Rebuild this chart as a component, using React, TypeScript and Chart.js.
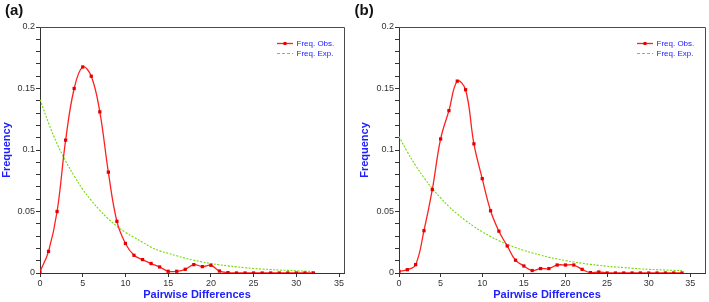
import React, { useEffect, useRef } from "react";
import { Chart, registerables } from "chart.js";

Chart.register(...registerables);

// Panel (a): pairwise differences 0..32
const diffsA = [0, 1, 2, 3, 4, 5, 6, 7, 8, 9, 10, 11, 12, 13, 14, 15, 16, 17, 18, 19, 20, 21, 22, 23, 24, 25, 26, 27, 28, 29, 30, 31, 32];
const obsA = [0.001, 0.0176, 0.05, 0.108, 0.15, 0.1675, 0.16, 0.131, 0.082, 0.042, 0.024, 0.0144, 0.0109, 0.0077, 0.0049, 0.0014, 0.0014, 0.003, 0.0068, 0.0052, 0.0063, 0.0016, 0.0003, 0, 0, 0, 0, 0, 0, 0, 0, 0, 0];
const expA = [0.141, 0.122, 0.105, 0.091, 0.079, 0.068, 0.059, 0.051, 0.044, 0.038, 0.033, 0.029, 0.025, 0.021, 0.018, 0.016, 0.014, 0.012, 0.0104, 0.009, 0.0077, 0.0067, 0.0058, 0.005, 0.0043, 0.0037, 0.0032, 0.0028, 0.0024, 0.0021, 0.0018, 0.0015, 0.0012];

// Panel (b): pairwise differences 0..34
const diffsB = [0, 1, 2, 3, 4, 5, 6, 7, 8, 9, 10, 11, 12, 13, 14, 15, 16, 17, 18, 19, 20, 21, 22, 23, 24, 25, 26, 27, 28, 29, 30, 31, 32, 33, 34];
const obsB = [0.0014, 0.0027, 0.0068, 0.0344, 0.0678, 0.109, 0.132, 0.156, 0.149, 0.105, 0.0767, 0.0506, 0.034, 0.022, 0.0104, 0.0057, 0.002, 0.0036, 0.0036, 0.0065, 0.0065, 0.0065, 0.003, 0.0003, 0.0008, 0, 0, 0, 0, 0, 0, 0, 0, 0, 0];
const expB = [0.111, 0.0985, 0.0873, 0.0775, 0.0687, 0.061, 0.054, 0.048, 0.0426, 0.0378, 0.0335, 0.0297, 0.0263, 0.0234, 0.0207, 0.0184, 0.0163, 0.0145, 0.0128, 0.0114, 0.0101, 0.009, 0.0079, 0.007, 0.0062, 0.0055, 0.0049, 0.0044, 0.0039, 0.0034, 0.003, 0.0027, 0.0024, 0.0021, 0.0019];

const seriesLabels = ["Freq. Obs.", "Freq. Exp."];
const xTitle = "Pairwise Differences";
const yTitle = "Frequency";

const RED = "#ff2020";
const GREEN = "#70dc00";
const BLUE = "#2020ff";
const AXIS = "#333333";
const TICK_FONT = '"Liberation Sans Narrow", "Liberation Sans", Arial, sans-serif';
const LABEL_FONT = '"Liberation Sans", Arial, sans-serif';

type PanelLayout = {
  width: number;
  height: number;
  plotLeft: number;
  plotRight: number;
  plotTop: number;
  plotBottom: number;
  xMax: number;
  yTitleX: number;
  xTitleX: number;
  tag: string;
  tagX: number;
  legendLineX: number;
  legendTextX: number;
};

const decorPlugin = {
  id: "decor",
  afterDatasetsDraw(chart: any, _args: any, opts: any) {
    const { ctx, chartArea } = chart;
    const { left, top, right, bottom } = chartArea;
    ctx.save();
    // frame on top and right
    ctx.strokeStyle = "#4a4a4a";
    ctx.lineWidth = 1;
    ctx.beginPath();
    ctx.moveTo(Math.round(left), Math.round(top) + 0.5);
    ctx.lineTo(Math.round(right) + 0.5, Math.round(top) + 0.5);
    ctx.lineTo(Math.round(right) + 0.5, Math.round(bottom));
    ctx.stroke();

    // panel tag
    ctx.fillStyle = "#111111";
    ctx.font = `bold 15px ${LABEL_FONT}`;
    ctx.textBaseline = "middle";
    ctx.textAlign = "left";
    ctx.fillText(opts.tag, opts.tagX, 11);

    // x axis title
    ctx.fillStyle = BLUE;
    ctx.font = `bold 11px ${LABEL_FONT}`;
    ctx.textAlign = "center";
    ctx.fillText(xTitle, opts.xTitleX, 295);

    // legend
    const rows = [43, 53];
    chart.data.datasets.forEach((ds: any, i: number) => {
      const y = rows[i];
      const x0 = opts.legendLineX;
      const x1 = x0 + 16;
      ctx.strokeStyle = ds.borderColor;
      ctx.lineWidth = ds.borderDash ? 1 : ds.borderWidth;
      ctx.setLineDash(ds.borderDash ? [3, 2] : []);
      ctx.beginPath();
      ctx.moveTo(x0, y + 0.5);
      ctx.lineTo(x1, y + 0.5);
      ctx.stroke();
      ctx.setLineDash([]);
      if (ds.pointRadius > 0) {
        ctx.fillStyle = ds.pointBackgroundColor;
        ctx.fillRect((x0 + x1) / 2 - 1.5, y - 1, 3, 3);
      }
      ctx.fillStyle = BLUE;
      ctx.font = `8px ${LABEL_FONT}`;
      ctx.textAlign = "left";
      ctx.textBaseline = "middle";
      ctx.fillText(ds.label, opts.legendTextX, y + 0.5);
    });
    ctx.restore();
  },
};

function isMultiple(v: number, step: number) {
  const r = v / step;
  return Math.abs(r - Math.round(r)) < 1e-6;
}

function Panel({ xs, obs, exp, layout }: { xs: number[]; obs: number[]; exp: number[]; layout: PanelLayout }) {
  const ref = useRef<HTMLCanvasElement | null>(null);
  useEffect(() => {
    if (!ref.current) return;
    const L = layout;
    const chart = new Chart(ref.current, {
      type: "line",
      data: {
        datasets: [
          {
            label: seriesLabels[0],
            data: xs.map((x, i) => ({ x, y: obs[i] })),
            borderColor: RED,
            borderWidth: 1.3,
            pointStyle: "rect",
            pointRadius: 2.3,
            pointBackgroundColor: "#e40000",
            pointBorderWidth: 0,
            tension: 0.4,
          },
          {
            label: seriesLabels[1],
            data: xs.map((x, i) => ({ x, y: exp[i] })),
            borderColor: GREEN,
            borderWidth: 1.1,
            borderDash: [2, 1.5],
            pointRadius: 0,
            tension: 0.4,
          },
        ],
      } as any,
      options: {
        animation: false,
        responsive: false,
        devicePixelRatio: 1,
        layout: {
          padding: { left: 0, top: L.plotTop, right: L.width - L.plotRight, bottom: 0 },
        },
        plugins: {
          legend: { display: false },
          tooltip: { enabled: false },
          decor: {
            tag: L.tag,
            tagX: L.tagX,
            xTitleX: L.xTitleX,
            legendLineX: L.legendLineX,
            legendTextX: L.legendTextX,
          },
        } as any,
        scales: {
          x: {
            type: "linear",
            min: 0,
            max: L.xMax,
            afterBuildTicks: (scale: any) => {
              scale.ticks = scale.ticks.filter((t: any) => isMultiple(t.value, 5));
            },
            afterFit: (scale: any) => {
              scale.height = L.height - L.plotBottom;
            },
            ticks: {
              stepSize: 5,
              includeBounds: false,
              autoSkip: false,
              maxRotation: 0,
              padding: 1,
              color: AXIS,
              font: { size: 9, family: TICK_FONT },
            },
            grid: { drawOnChartArea: false, tickLength: 4, color: AXIS },
            border: { color: AXIS, width: 1 },
          },
          y: {
            type: "linear",
            min: 0,
            max: 0.2,
            afterFit: (scale: any) => {
              scale.width = L.plotLeft;
            },
            ticks: {
              stepSize: 0.01,
              autoSkip: false,
              padding: 1,
              color: AXIS,
              font: { size: 9, family: TICK_FONT },
              callback: (v: any) => (isMultiple(Number(v), 0.05) ? String(+Number(v).toFixed(2)) : ""),
            },
            grid: { drawOnChartArea: false, tickLength: 4, color: AXIS },
            border: { color: AXIS, width: 1 },
            title: {
              display: true,
              text: yTitle,
              color: BLUE,
              font: { size: 11, weight: "bold", family: LABEL_FONT },
              padding: { top: L.yTitleX - 6.6, bottom: 0 },
            },
          },
        },
      } as any,
      plugins: [decorPlugin as any],
    });
    return () => chart.destroy();
  }, []);
  return (
    <canvas
      ref={ref}
      width={layout.width}
      height={layout.height}
      style={{ display: "block", width: layout.width, height: layout.height }}
    />
  );
}

const layoutA: PanelLayout = {
  width: 354,
  height: 302,
  plotLeft: 40,
  plotRight: 344,
  plotTop: 27,
  plotBottom: 273,
  xMax: 35.58,
  yTitleX: 7,
  xTitleX: 197,
  tag: "(a)",
  tagX: 5,
  legendLineX: 277,
  legendTextX: 296.5,
};

const layoutB: PanelLayout = {
  width: 355,
  height: 302,
  plotLeft: 45,
  plotRight: 352,
  plotTop: 27,
  plotBottom: 273,
  xMax: 36.76,
  yTitleX: 11,
  xTitleX: 193,
  tag: "(b)",
  tagX: 0.5,
  legendLineX: 283,
  legendTextX: 302.5,
};

export default function App() {
  return (
    <div style={{ position: "fixed", left: 0, top: 0, width: 709, height: 302, display: "flex", background: "#ffffff" }}>
      <Panel xs={diffsA} obs={obsA} exp={expA} layout={layoutA} />
      <Panel xs={diffsB} obs={obsB} exp={expB} layout={layoutB} />
    </div>
  );
}
